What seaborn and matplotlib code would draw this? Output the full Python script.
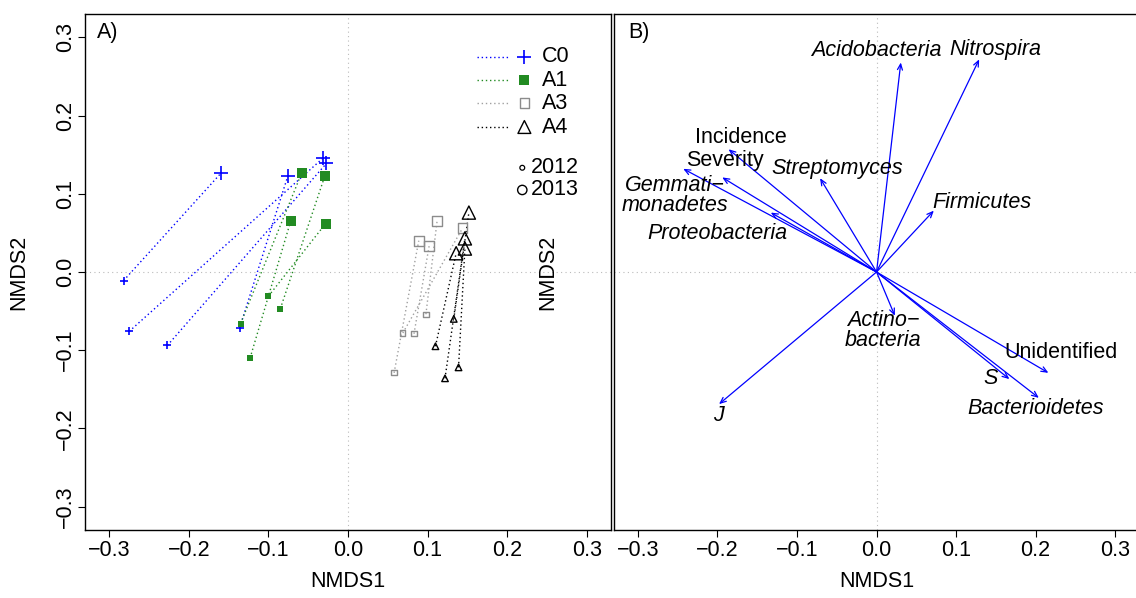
import numpy as np
import pandas as pd
import matplotlib
matplotlib.use("Agg")
import matplotlib.pyplot as plt
import seaborn as sns

# ---------------- Data: panel A (NMDS site scores) ----------------
groups = ["C0", "A1", "A3", "A4"]
years = [2012, 2013]

c0_x_2012 = [-0.282, -0.275, -0.227, -0.136]
c0_y_2012 = [-0.011, -0.076, -0.094, -0.071]
c0_x_2013 = [-0.160, -0.031, -0.027, -0.0755]
c0_y_2013 = [0.126, 0.146, 0.139, 0.123]

a1_x_2012 = [-0.123, -0.135, -0.100, -0.085]
a1_y_2012 = [-0.110, -0.066, -0.031, -0.047]
a1_x_2013 = [-0.072, -0.058, -0.028, -0.029]
a1_y_2013 = [0.065, 0.127, 0.062, 0.123]

a3_x_2012 = [0.058, 0.069, 0.083, 0.098]
a3_y_2012 = [-0.129, -0.078, -0.079, -0.054]
a3_x_2013 = [0.089, 0.144, 0.102, 0.112]
a3_y_2013 = [0.040, 0.056, 0.033, 0.065]

a4_x_2012 = [0.110, 0.133, 0.139, 0.122]
a4_y_2012 = [-0.095, -0.060, -0.122, -0.136]
a4_x_2013 = [0.136, 0.152, 0.147, 0.147]
a4_y_2013 = [0.024, 0.076, 0.030, 0.043]

# ---------------- Data: panel B (fitted vectors) ----------------
vec_names = ["Acidobacteria", "Nitrospira", "Incidence", "Severity", "Gemmati\u2212\nmonadetes",
             "Streptomyces", "Proteobacteria", "Firmicutes", "Actino\u2212\nbacteria",
             "Unidentified", "S", "Bacterioidetes", "J"]
vec_x = [0.0305, 0.129, -0.186, -0.194, -0.243, -0.071, -0.133, 0.072, 0.023, 0.216, 0.167, 0.204, -0.198]
vec_y = [0.268, 0.272, 0.157, 0.121, 0.132, 0.120, 0.076, 0.0785, -0.056, -0.129, -0.137, -0.161, -0.169]
lab_x = [0.000, 0.149, -0.171, -0.191, -0.254, -0.050, -0.200, 0.133, 0.0085, 0.232, 0.143, 0.200, -0.199]
lab_y = [0.283, 0.284, 0.172, 0.142, 0.098, 0.133, 0.049, 0.089, -0.075, -0.103, -0.136, -0.174, -0.183]
lab_italic = [True, True, False, False, True, True, True, True, True, False, True, True, True]

ticks = [-0.3, -0.2, -0.1, 0.0, 0.1, 0.2, 0.3]
tick_labels = ["\u22120.3", "\u22120.2", "\u22120.1", "0.0", "0.1", "0.2", "0.3"]

# ---------------- Style ----------------
sns.set_theme(style="white")
plt.rcParams["font.family"] = ["Liberation Sans", "DejaVu Sans"]
plt.rcParams["text.color"] = "black"
plt.rcParams["axes.labelcolor"] = "black"
plt.rcParams["xtick.color"] = "black"
plt.rcParams["ytick.color"] = "black"
FS = 15.5

W, H = 1136, 598
fig = plt.figure(figsize=(W / 100, H / 100), dpi=100)
axA = fig.add_axes([85.4 / W, 1 - 530 / H, 525.1 / W, 516 / H])
axB = fig.add_axes([614 / W, 1 - 530 / H, 525.1 / W, 516 / H])

LIM = (-0.33, 0.33)
for ax in (axA, axB):
    ax.set_xlim(LIM)
    ax.set_ylim(LIM)
    ax.axhline(0, color="#BBBBBB", lw=0.8, ls=(0, (1, 3)), zorder=0)
    ax.axvline(0, color="#BBBBBB", lw=0.8, ls=(0, (1, 3)), zorder=0)
    for sp in ax.spines.values():
        sp.set_color("black")
        sp.set_linewidth(1.0)
    ax.set_xticks(ticks)
    ax.set_xticklabels(tick_labels, fontsize=FS, color="black")
    ax.tick_params(axis="x", direction="out", length=5, width=0.8, pad=2.5, bottom=True,
                   colors="black", labelcolor="black")

axA.set_yticks(ticks)
axA.set_yticklabels(tick_labels, fontsize=FS, rotation=90, va="center", color="black")
axA.tick_params(axis="y", direction="out", length=5, width=0.8, pad=1.5, left=True,
                colors="black", labelcolor="black")
axB.set_yticks([])

# ---------------- Panel A ----------------
styles = {
    "C0": dict(x12=c0_x_2012, y12=c0_y_2012, x13=c0_x_2013, y13=c0_y_2013, marker="+", pcol="#0000FF",
               lcol="#0000FF", filled=True, sizes=(33, 90)),
    "A1": dict(x12=a1_x_2012, y12=a1_y_2012, x13=a1_x_2013, y13=a1_y_2013, marker="s", pcol="#228B22",
               lcol="#228B22", filled=True, sizes=(14, 55)),
    "A3": dict(x12=a3_x_2012, y12=a3_y_2012, x13=a3_x_2013, y13=a3_y_2013, marker="s", pcol="#8C8C8C",
               lcol="#A0A0A0", filled=False, sizes=(14, 50)),
    "A4": dict(x12=a4_x_2012, y12=a4_y_2012, x13=a4_x_2013, y13=a4_y_2013, marker="^", pcol="#000000",
               lcol="#000000", filled=False, sizes=(22, 90)),
}

for g in groups:
    st = styles[g]
    n = len(st["x12"])
    df = pd.DataFrame({
        "x": list(st["x12"]) + list(st["x13"]),
        "y": list(st["y12"]) + list(st["y13"]),
        "year": [2012] * n + [2013] * n,
        "pair": list(range(n)) * 2,
    })
    sns.lineplot(data=df, x="x", y="y", units="pair", estimator=None, sort=False,
                 color=st["lcol"], lw=1.0, ls=(0, (1, 2)), ax=axA, legend=False, zorder=2)
    for yr, s in zip(years, st["sizes"]):
        sub = df[df["year"] == yr]
        if st["marker"] == "+":
            sns.scatterplot(data=sub, x="x", y="y", marker="+", s=s, color=st["pcol"],
                            linewidth=1.2, ax=axA, legend=False, zorder=3)
        else:
            sns.scatterplot(data=sub, x="x", y="y", marker=st["marker"], s=s, color=st["pcol"],
                            linewidth=0, ax=axA, legend=False, zorder=3)
            coll = axA.collections[-1]
            if not st["filled"]:
                coll.set_facecolor("none")
                coll.set_edgecolor(st["pcol"])
                coll.set_linewidth(1.0)

for ax in (axA, axB):
    ax.set_xlabel("NMDS1", fontsize=FS, color="black")
    ax.xaxis.set_label_coords(0.5, -0.08)
    ax.set_ylabel("NMDS2", fontsize=FS, color="black")
    ax.yaxis.set_label_coords(-0.106, 0.5)

# manual legend (R style)
leg_y = [0.917, 0.872, 0.827, 0.781]
for g, yy in zip(groups, leg_y):
    st = styles[g]
    axA.plot([0.746, 0.805], [yy, yy], transform=axA.transAxes, color=st["lcol"], lw=1.0,
             ls=(0, (1, 2)), clip_on=False)
    if st["marker"] == "+":
        axA.scatter([0.836], [yy], transform=axA.transAxes, marker="+", s=90, color=st["pcol"], linewidth=1.2)
    elif st["filled"]:
        axA.scatter([0.836], [yy], transform=axA.transAxes, marker="s", s=50, color=st["pcol"], linewidth=0)
    else:
        axA.scatter([0.836], [yy], transform=axA.transAxes, marker=st["marker"], s=st["sizes"][1] * 0.95,
                    facecolor="none", edgecolor=st["pcol"], linewidth=1.0)
    axA.text(0.869, yy, g, transform=axA.transAxes, fontsize=FS, va="center", ha="left")

axA.scatter([0.832], [0.702], transform=axA.transAxes, marker="o", s=12, facecolor="none",
            edgecolor="black", linewidth=0.9)
axA.text(0.849, 0.702, "2012", transform=axA.transAxes, fontsize=FS, va="center", ha="left")
axA.scatter([0.832], [0.659], transform=axA.transAxes, marker="o", s=45, facecolor="none",
            edgecolor="black", linewidth=1.0)
axA.text(0.849, 0.659, "2013", transform=axA.transAxes, fontsize=FS, va="center", ha="left")

axA.text(0.0215, 0.965, "A)", transform=axA.transAxes, fontsize=FS, va="center", ha="left")

# ---------------- Panel B ----------------
for vx, vy in zip(vec_x, vec_y):
    axB.annotate("", xy=(vx, vy), xytext=(0, 0),
                 arrowprops=dict(arrowstyle="->,head_length=0.35,head_width=0.15",
                                 color="#0000FF", lw=0.9, shrinkA=0, shrinkB=0))
for name, lx, ly, it in zip(vec_names, lab_x, lab_y, lab_italic):
    axB.text(lx, ly, name, fontsize=FS, ha="center", va="center",
             style="italic" if it else "normal", linespacing=0.95)

axB.text(0.027, 0.965, "B)", transform=axB.transAxes, fontsize=FS, va="center", ha="left")

fig.savefig("out.png", dpi=100)
